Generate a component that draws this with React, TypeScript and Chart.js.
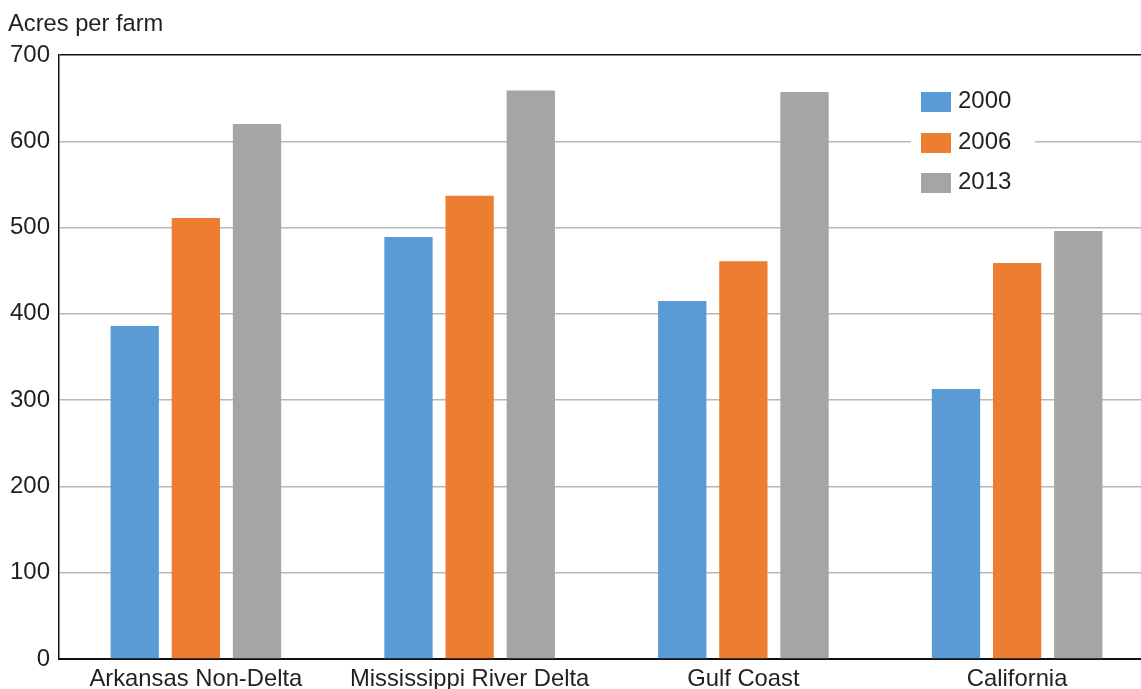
import React, { useEffect, useRef } from "react";
import { Chart, registerables } from "chart.js";

Chart.register(...registerables);

const categories = ["Arkansas Non-Delta", "Mississippi River Delta", "Gulf Coast", "California"];
const seriesNames = ["2000", "2006", "2013"];
const values2000 = [386, 489, 415, 313];
const values2006 = [511, 537, 461, 459];
const values2013 = [620, 659, 657, 496];
const yTicks = [0, 100, 200, 300, 400, 500, 600, 700];
const yTitle = "Acres per farm";
const colors = ["#5B9BD5", "#ED7D31", "#A5A5A5"];

const FONT = "'Liberation Sans', Arial, Helvetica, sans-serif";

const overlayPlugin = {
  id: "overlay",
  afterDraw(chart: any) {
    const ctx = chart.ctx;
    ctx.save();
    // title
    ctx.fillStyle = "#231f20";
    ctx.font = `23.7px ${FONT}`;
    ctx.textAlign = "left";
    ctx.textBaseline = "alphabetic";
    ctx.fillText(yTitle, 8, 31);
    // legend
    ctx.fillStyle = "#ffffff";
    ctx.fillRect(911, 84, 124, 116);
    const ys = [102, 143, 183];
    chart.data.datasets.forEach((ds: any, i: number) => {
      ctx.fillStyle = ds.backgroundColor;
      ctx.fillRect(921, ys[i] - 10, 30, 20);
      ctx.fillStyle = "#231f20";
      ctx.font = `24px ${FONT}`;
      ctx.textBaseline = "middle";
      ctx.fillText(ds.label, 958, ys[i] - 1);
    });
    ctx.restore();
  },
};

export default function App() {
  const ref = useRef<HTMLCanvasElement>(null);
  useEffect(() => {
    if (!ref.current) return;
    const chart = new Chart(ref.current, {
      type: "bar",
      data: {
        labels: categories,
        datasets: [values2000, values2006, values2013].map((v, i) => ({
          label: seriesNames[i],
          data: v,
          backgroundColor: colors[i],
          borderWidth: 0,
          barPercentage: 0.79,
          categoryPercentage: 0.67,
        })),
      },
      options: {
        responsive: false,
        animation: false,
        devicePixelRatio: 1,
        layout: { padding: { top: 55, right: 26, left: 0, bottom: 0 } },
        plugins: { legend: { display: false }, tooltip: { enabled: false } },
        scales: {
          x: {
            grid: { display: false, drawTicks: false },
            border: { color: "#111", width: 2 },
            ticks: { color: "#231f20", font: { family: FONT, size: 23.8 }, padding: 6, maxRotation: 0, autoSkip: false },
            afterFit(scale: any) { scale.height = 30; },
          },
          y: {
            min: 0,
            max: 700,
            afterBuildTicks(scale: any) { scale.ticks = yTicks.map((v) => ({ value: v })); },
            grid: {
              drawTicks: false,
              color: (c: any) => (c.tick && c.tick.value === 700 ? "#111" : "#b8b8b8"),
              lineWidth: 1.5,
            },
            border: { color: "#111", width: 1.5 },
            ticks: { color: "#231f20", font: { family: FONT, size: 24 }, padding: 9 },
            afterFit(scale: any) { scale.width = 59; },
          },
        },
      },
      plugins: [overlayPlugin],
    });
    return () => chart.destroy();
  }, []);
  return (
    <div style={{ position: "fixed", left: 0, top: 0, width: 1141, height: 689, overflow: "hidden", background: "#fff" }}>
      <canvas ref={ref} width={1180} height={689} style={{ display: "block" }} />
    </div>
  );
}
